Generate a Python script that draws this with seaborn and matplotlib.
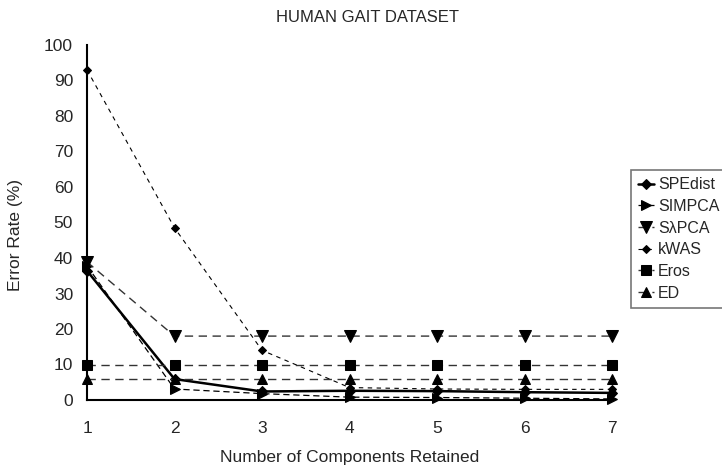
import matplotlib
matplotlib.use("Agg")
import matplotlib.pyplot as plt
import seaborn as sns
import pandas as pd

components = [1, 2, 3, 4, 5, 6, 7]
spedist = [36.4, 5.9, 2.4, 2.6, 2.5, 2.2, 2.0]
simpca = [37.8, 3.1, 1.8, 0.8, 0.7, 0.5, 0.3]
slpca = [38.9, 18.0, 18.0, 18.0, 18.0, 18.0, 18.0]
kwas = [93.0, 48.5, 14.0, 3.5, 3.1, 3.0, 3.0]
eros = [9.8, 9.8, 9.8, 9.8, 9.8, 9.8, 9.8]
ed = [5.8, 5.8, 5.8, 5.8, 5.8, 5.8, 5.8]

series_names = ["SPEdist", "SIMPCA", "S\u03bbPCA", "kWAS", "Eros", "ED"]
series_vals = [spedist, simpca, slpca, kwas, eros, ed]

sns.set_style("white")
plt.rcParams['font.family'] = ['Liberation Sans', 'DejaVu Sans']

fig = plt.figure(figsize=(7.22, 4.68), dpi=100)
left, right, bottom, top = 87 / 722, 612 / 722, 1 - 400 / 468, 1 - 45 / 468
ax = fig.add_axes([left, bottom, right - left, top - bottom])

styles = {
    "SPEdist": dict(marker="D", ms=5, lw=1.8, ls="-", color="black"),
    "SIMPCA": dict(marker=">", ms=7, lw=0.9, ls=(0, (5, 3)), color="black"),
    "S\u03bbPCA": dict(marker="v", ms=9, lw=1.0, ls=(0, (6, 4)), color="#333333"),
    "kWAS": dict(marker="D", ms=4, lw=0.8, ls=(0, (4, 4)), color="black"),
    "Eros": dict(marker="s", ms=7, lw=1.0, ls=(0, (6, 4)), color="#333333"),
    "ED": dict(marker="^", ms=7, lw=1.0, ls=(0, (6, 4)), color="#333333"),
}

for name, vals in zip(series_names, series_vals):
    df = pd.DataFrame({"x": components, "y": vals})
    st = styles[name]
    sns.lineplot(data=df, x="x", y="y", ax=ax, color=st["color"], lw=st["lw"],
                 linestyle=st["ls"], marker=st["marker"], markersize=st["ms"],
                 markerfacecolor="black", markeredgecolor="black",
                 label=name, clip_on=False, zorder=3)

ax.set_xlim(1, 7)
ax.set_ylim(0, 100)
ax.set_xticks(components)
ax.set_yticks(range(0, 101, 10))
ax.tick_params(axis="both", labelsize=12.5, length=5, width=1, color="#555555",
               direction="out", pad=5)
ax.tick_params(axis="x", pad=10)
for s in ["top", "right"]:
    ax.spines[s].set_visible(False)
for s in ["left", "bottom"]:
    ax.spines[s].set_color("black")
    ax.spines[s].set_linewidth(1.5)

ax.set_xlabel("Number of Components Retained", fontsize=12.5, labelpad=10)
ax.set_ylabel("Error Rate (%)", fontsize=12.5)
ax.yaxis.set_label_coords(-0.122, 0.465)
fig.text(368 / 722, 1 - 17 / 468, "HUMAN GAIT DATASET", fontsize=12,
         ha="center", va="center")

handles, labels = ax.get_legend_handles_labels()
if ax.get_legend():
    ax.get_legend().remove()
leg = fig.legend(handles, labels, loc="upper left", bbox_to_anchor=(631 / 722, 1 - 170 / 468),
                 fontsize=11.5, frameon=True, fancybox=False, edgecolor="#555555",
                 handlelength=1.0, handletextpad=0.25, labelspacing=0.42,
                 borderpad=0.45, borderaxespad=0)
leg.get_frame().set_linewidth(1.2)

fig.savefig("out.png", dpi=100)
